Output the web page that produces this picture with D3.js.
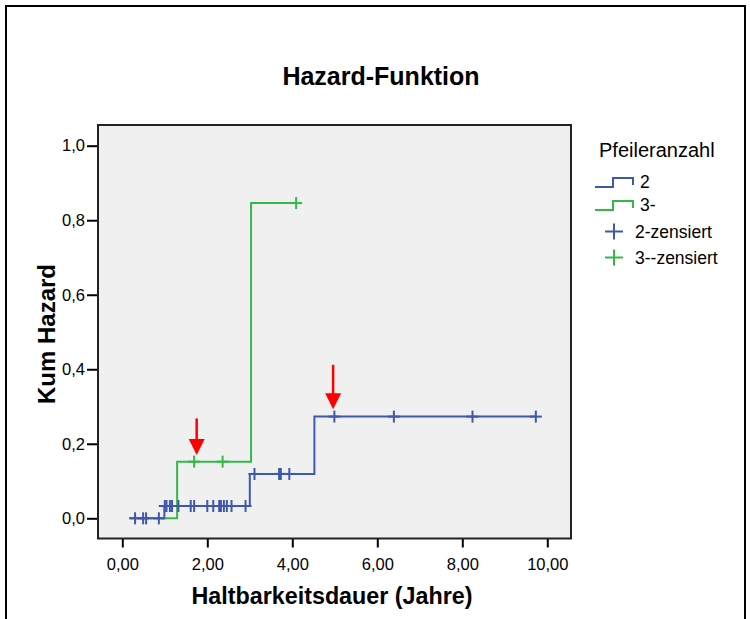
<!DOCTYPE html>
<html><head><meta charset="utf-8">
<script src="https://cdn.jsdelivr.net/npm/d3@7"></script>
<style>
body{margin:0;background:#fff}
svg{display:block}
text{font-family:"Liberation Sans",Arial,Helvetica,sans-serif;fill:#000}
</style>
</head><body>
<svg id="c" width="750" height="619"></svg>
<script>
// ---- data ----
const groups = ["2", "3-"];
const censorLabels = ["2-zensiert", "3--zensiert"];
const groupColors = ["#3E58AC", "#36B74A"];

// group "2": step times and cumulative hazard levels
const eventTimes2 = [0.18, 0.99, 3.00, 4.52];
const cumHaz2 = [0, 0.033, 0.119, 0.273];
const lastTime2 = 9.73;
const censor2 = [0.30, 0.49, 0.56, 0.86, 1.00, 1.04, 1.12, 1.17, 1.32, 1.61, 1.69,
                 2.00, 2.14, 2.28, 2.32, 2.39, 2.46, 2.57, 2.90,
                 3.11, 3.69, 3.73, 3.93, 4.99, 6.39, 8.24, 9.73];

// group "3-"
const eventTimes3 = [0.72, 1.29, 3.03];
const cumHaz3 = [0, 0.152, 0.846];
const lastTime3 = 4.09;
const censor3 = [1.69, 2.36, 4.09];

const xTicks = [0, 2, 4, 6, 8, 10];
const yTicks = [0, 0.2, 0.4, 0.6, 0.8, 1.0];

// red annotation arrows (time, start hazard, tip hazard)
const arrowTimes = [1.75, 4.96];
const arrowFrom = [0.268, 0.412];
const arrowTo = [0.170, 0.293];

// ---- layout ----
const svg = d3.select("#c");
const box = {left: 98, right: 571, top: 125, bottom: 538.5};
const x = d3.scaleLinear().domain([0, 10]).range([122.3, 547.3]);
const y = d3.scaleLinear().domain([0, 1]).range([518.3, 145.7]);

// outer frame
svg.append("rect").attr("x", 6).attr("y", 6).attr("width", 739).attr("height", 640)
  .attr("fill", "none").attr("stroke", "#000").attr("stroke-width", 2);

// title
svg.append("text").attr("x", 381).attr("y", 85).attr("text-anchor", "middle")
  .style("font-size", "25px").style("font-weight", "bold").text("Hazard-Funktion");

// plot background
svg.append("rect").attr("x", box.left).attr("y", box.top)
  .attr("width", box.right - box.left).attr("height", box.bottom - box.top)
  .attr("fill", "#f0f0f0").attr("stroke", "none");

// axes
const fmtX = d => d.toFixed(2).replace(".", ",");
const fmtY = d => d.toFixed(1).replace(".", ",");
const gx = svg.append("g").attr("transform", `translate(0,${box.bottom})`)
  .call(d3.axisBottom(x).tickValues(xTicks).tickSize(9).tickSizeOuter(0).tickPadding(11).tickFormat(fmtX));
const gy = svg.append("g").attr("transform", `translate(${box.left},0)`)
  .call(d3.axisLeft(y).tickValues(yTicks).tickSize(11).tickSizeOuter(0).tickPadding(2).tickFormat(fmtY));
[gx, gy].forEach(g => {
  g.select(".domain").remove();
  g.selectAll(".tick line").attr("stroke", "#000").attr("stroke-width", 2);
  g.selectAll(".tick text").style("font-size", "16.5px").style("font-family", '"Liberation Sans",Arial,sans-serif').attr("fill", "#000");
});

// plot border
svg.append("rect").attr("x", box.left).attr("y", box.top)
  .attr("width", box.right - box.left).attr("height", box.bottom - box.top)
  .attr("fill", "none").attr("stroke", "#222").attr("stroke-width", 2);

// axis titles
svg.append("text").attr("x", 332).attr("y", 604).attr("text-anchor", "middle")
  .style("font-size", "23.3px").style("font-weight", "bold").text("Haltbarkeitsdauer (Jahre)");
svg.append("text").attr("transform", "translate(55,334) rotate(-90)").attr("text-anchor", "middle")
  .style("font-size", "24px").style("font-weight", "bold").text("Kum Hazard");

// step curves
const series = [
  {times: eventTimes2, haz: cumHaz2, last: lastTime2, cens: censor2, color: groupColors[0]},
  {times: eventTimes3, haz: cumHaz3, last: lastTime3, cens: censor3, color: groupColors[1]}
];
const line = d3.line().x(d => x(d[0])).y(d => y(d[1])).curve(d3.curveStepAfter);
const levelAt = (s, t) => s.haz[Math.max(0, d3.bisectRight(s.times, t) - 1)];

series.forEach(s => {
  const pts = s.times.map((t, i) => [t, s.haz[i]]);
  pts.push([s.last, s.haz[s.haz.length - 1]]);
  svg.append("path").attr("d", line(pts)).attr("fill", "none")
    .attr("stroke", s.color).attr("stroke-width", 2);
});
// censor marks
series.forEach(s => {
  const g = svg.append("g").attr("stroke", s.color).attr("stroke-width", 2);
  s.cens.forEach(t => {
    const cx = x(t), cy = y(levelAt(s, t));
    g.append("line").attr("x1", cx - 6).attr("x2", cx + 6).attr("y1", cy).attr("y2", cy);
    g.append("line").attr("x1", cx).attr("x2", cx).attr("y1", cy - 6).attr("y2", cy + 6);
  });
});

// red arrows
arrowTimes.forEach((t, i) => {
  const ax = x(t), y0 = y(arrowFrom[i]), y1 = y(arrowTo[i]);
  const hh = 16, hw = 8;
  svg.append("line").attr("x1", ax).attr("x2", ax).attr("y1", y0).attr("y2", y1 - hh + 1)
    .attr("stroke", "#ff0000").attr("stroke-width", 2.5);
  svg.append("path").attr("d", `M${ax - hw},${y1 - hh} L${ax + hw},${y1 - hh} L${ax},${y1} Z`)
    .attr("fill", "#ff0000");
});

// legend
const lg = svg.append("g");
lg.append("text").attr("x", 599).attr("y", 157).style("font-size", "20px").text("Pfeileranzahl");
const stepY = [187, 210];
groups.forEach((gname, i) => {
  const yb = stepY[i];
  lg.append("path").attr("d", `M595,${yb} H613 V${yb - 9} H633 V${yb - 2}`)
    .attr("fill", "none").attr("stroke", groupColors[i]).attr("stroke-width", 2);
  lg.append("text").attr("x", 640).attr("y", yb + 1).style("font-size", "17.5px").text(gname);
});
const plusY = [231.5, 257.5];
censorLabels.forEach((lab, i) => {
  const cy = plusY[i];
  const g = lg.append("g").attr("stroke", groupColors[i]).attr("stroke-width", 2);
  g.append("line").attr("x1", 605).attr("x2", 623).attr("y1", cy).attr("y2", cy);
  g.append("line").attr("x1", 614).attr("x2", 614).attr("y1", cy - 8).attr("y2", cy + 8);
  lg.append("text").attr("x", 635).attr("y", cy + 6).style("font-size", "17.5px").text(lab);
});
</script>
</body></html>
